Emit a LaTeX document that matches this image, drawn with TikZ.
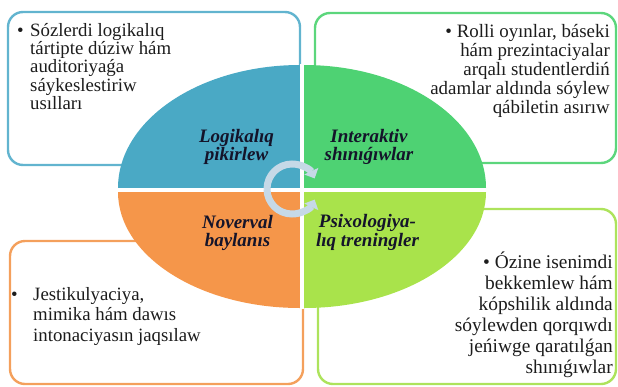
\documentclass[tikz,border=0pt]{standalone}
\usepackage{fontspec}
\setmainfont{Liberation Serif}
\usetikzlibrary{arrows.meta}
\definecolor{qblue}{HTML}{4AA9C5}
\definecolor{qgreen}{HTML}{4ED273}
\definecolor{qorange}{HTML}{F5964A}
\definecolor{qlime}{HTML}{A9E34B}
\definecolor{bblue}{HTML}{62B4CF}
\definecolor{bgreen}{HTML}{5CD67C}
\definecolor{borange}{HTML}{F4A05C}
\definecolor{blime}{HTML}{ADE35C}
\definecolor{ringcol}{HTML}{C6D9E7}
\definecolor{txtcol}{HTML}{1C1C1C}
\definecolor{lblcol}{HTML}{14142A}
\begin{document}
\begin{tikzpicture}[x=1pt,y=-1pt,
  boxline/.style={line width=2.4pt, rounded corners=15pt},
  bodytxt/.style={inner sep=0pt, text=txtcol},
  lbl/.style={inner sep=0pt, text=lblcol, align=center, anchor=base,
    font=\fontsize{19}{18.5}\selectfont\bfseries\itshape},
  bul/.style={inner sep=0pt, text=txtcol, anchor=base west}]
\useasboundingbox (0,0) rectangle (618,386);
% boxes
\draw[boxline, draw=bblue]   (8,12)   rectangle (300,165);
\draw[boxline, draw=bgreen]  (315,13) rectangle (616,163);
\draw[boxline, draw=borange] (10,241) rectangle (303,384);
\draw[boxline, draw=blime]   (318,209) rectangle (616,384);
% quadrants of the ellipse
\fill[qblue]   (300,188) -- (118,188) arc[start angle=180, end angle=270, x radius=182, y radius=123] -- cycle;
\fill[qgreen]  (304,188) -- (486,188) arc[start angle=0, end angle=-90, x radius=182, y radius=123] -- cycle;
\fill[qorange] (300,192) -- (118,192) arc[start angle=180, end angle=90, x radius=182, y radius=116] -- cycle;
\fill[qlime]   (304,192) -- (486,192) arc[start angle=0, end angle=90, x radius=182, y radius=116] -- cycle;
\draw[white, line width=4pt] (302,64) -- (302,309);
\draw[white, line width=4pt] (117,190) -- (487,190);
% circular arrows
\draw[ringcol, line width=7pt, -{Triangle[width=15pt,length=8pt]}]
  (267,189) arc[start angle=180, end angle=335, radius=25];
\draw[ringcol, line width=7pt, -{Triangle[width=15pt,length=8pt]}]
  (267,189) arc[start angle=180, end angle=25, radius=25];
% quadrant labels (anchor = baseline of last line)
\node[lbl] (lp) at (236.5,160.5) {Logikalıq\\pikirlew};
\node[lbl] (is) at (369,160.5) {Interaktiv\\shınıǵıwlar};
\node[lbl] (nb) at (237.5,246.5) {Noverval\\baylanıs};
\node[lbl] (pt) at (367.5,246) {Psixologiya-\\lıq treningler};
% box texts
\node[bul, font=\fontsize{18.8}{18.4}\selectfont] (tlb) at (17,36) {•};
\node[bodytxt, anchor=base west, align=left, font=\fontsize{18.8}{18.4}\selectfont] (tlt) at (30,109.6)
  {Sózlerdi logikalıq\\tártipte dúziw hám\\auditoriyaǵa\\sáykeslestiriw\\usılları};
\node[bodytxt, anchor=base east, align=right, font=\fontsize{18.9}{19}\selectfont] (trt) at (610,113)
  {• Rolli oyınlar, báseki\\hám prezintaciyalar\\arqalı studentlerdiń\\adamlar aldında sóylew\\qábiletin asırıw};
\node[bul, font=\fontsize{18.8}{20.5}\selectfont] (blb) at (11,300) {•};
\node[bodytxt, anchor=base west, align=left, font=\fontsize{18.8}{20.5}\selectfont] (blt) at (33,341)
  {Jestikulyaciya,\\mimika hám dawıs\\intonaciyasın jaqsılaw};
\node[bodytxt, anchor=base east, align=right, font=\fontsize{19.4}{21}\selectfont] (brt) at (613,373)
  {• Ózine isenimdi\\bekkemlew hám\\kópshilik aldında\\sóylewden qorqıwdı\\jeńiwge qaratılǵan\\shınıǵıwlar};
\end{tikzpicture}
\end{document}
